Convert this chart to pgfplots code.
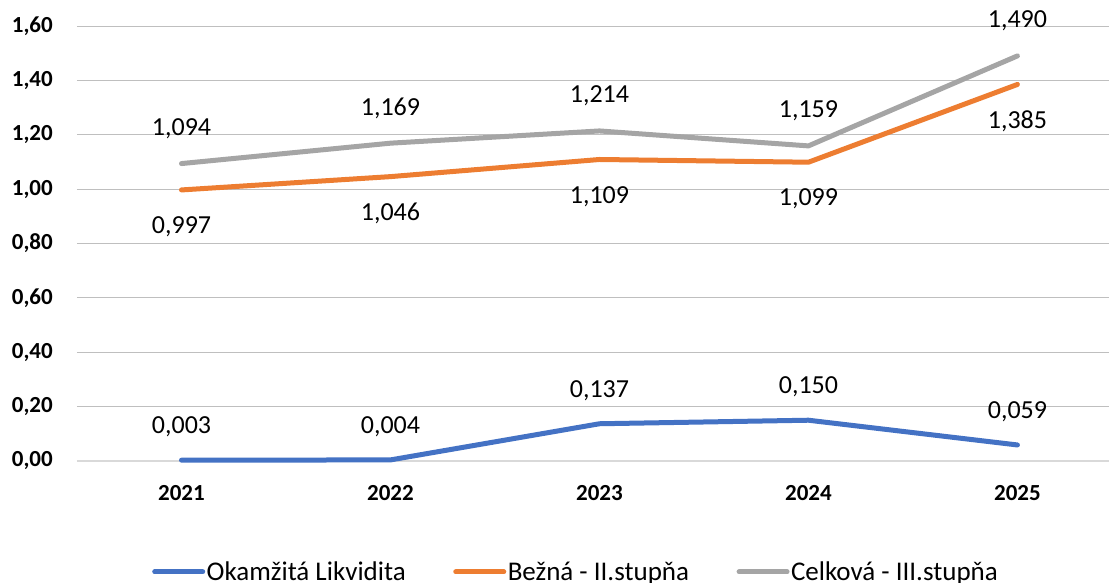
\documentclass[border=0pt]{standalone}
\usepackage{fontspec}
\setmainfont{Carlito}
\usepackage{pgfplots}
\pgfplotsset{compat=1.18}
\definecolor{blueL}{HTML}{4472C4}
\definecolor{orangeL}{HTML}{ED7D31}
\definecolor{grayL}{HTML}{A5A5A5}
\definecolor{gridcol}{HTML}{BFBFBF}
\definecolor{zerocol}{HTML}{D9D9D9}
\begin{document}
\begin{tikzpicture}
\begin{axis}[
  at={(0pt,0pt)}, anchor=south west,
  scale only axis, width=1032pt, height=435pt,
  xmin=-0.5, xmax=4.438, ymin=0, ymax=1.6,
  clip=false,
  xtick={0,1,2,3,4}, xticklabels={2021,2022,2023,2024,2025},
  ytick={0.2,0.4,0.6,0.8,1.0,1.2,1.4,1.6},
  extra y ticks={0},
  extra y tick style={grid style={draw=zerocol, line width=1.6pt}},
  ymajorgrids, grid style={draw=gridcol, line width=0.9pt},
  major tick length=0pt,
  axis line style={draw=none},
  y tick label style={/pgf/number format/fixed, /pgf/number format/fixed zerofill, /pgf/number format/precision=2, /pgf/number format/use comma, /pgf/number format/assume math mode=true},
  yticklabel style={font=\fontsize{23}{27}\selectfont\bfseries, anchor=east, inner sep=0pt, xshift=-24pt},
  xticklabel style={font=\fontsize{23}{27}\selectfont\bfseries, anchor=north, inner sep=0pt, yshift=-24pt},
  legend style={at={(axis description cs:0.0727,-0.255)}, anchor=west, draw=none, fill=none, inner sep=0pt,
    font=\fontsize{27}{31}\selectfont, nodes={inner sep=1.5pt},
    /tikz/every even column/.append style={column sep=46pt}},
  legend columns=3,
  legend image code/.code={\draw[#1, line cap=round] (2.5pt,0pt) -- (50.5pt,0pt);},
  nodes near coords={\pgfmathprintnumber[fixed,fixed zerofill,precision=3,use comma,assume math mode=true]{\pgfplotspointmeta}},
  every node near coord/.append style={font=\fontsize{26}{30}\selectfont, text=black, anchor=center},
]
\addplot[color=blueL, line width=5pt, line cap=round, line join=round,
  every node near coord/.append style={yshift=33pt}]
  coordinates {(0,0.003) (1,0.004) (2,0.137) (3,0.150) (4,0.059)};
\addlegendentry{Okamžitá Likvidita}
\addplot[color=orangeL, line width=5pt, line cap=round, line join=round,
  every node near coord/.append style={yshift=-37pt}]
  coordinates {(0,0.997) (1,1.046) (2,1.109) (3,1.099) (4,1.385)};
\addlegendentry{Bežná - II.stupňa}
\addplot[color=grayL, line width=5pt, line cap=round, line join=round,
  every node near coord/.append style={yshift=35pt}]
  coordinates {(0,1.094) (1,1.169) (2,1.214) (3,1.159) (4,1.490)};
\addlegendentry{Celková - III.stupňa}
\end{axis}
\pgfresetboundingbox
\useasboundingbox (-77pt,-121pt) rectangle (1032pt,461pt);
\end{tikzpicture}
\end{document}
